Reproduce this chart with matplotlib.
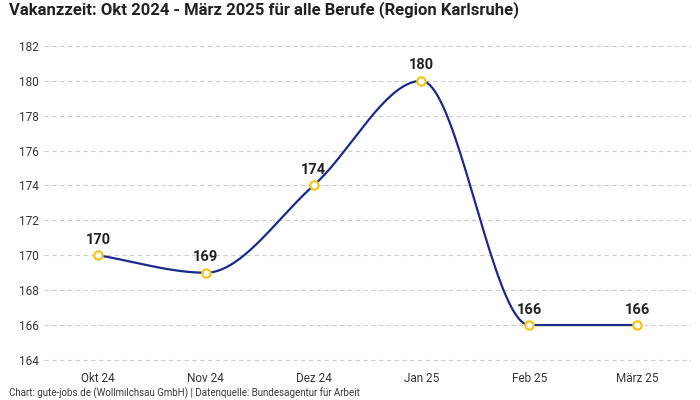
import numpy as np
import matplotlib
matplotlib.use("Agg")
import matplotlib.pyplot as plt

plt.rcParams["font.family"] = "Roboto"

categories = ["Okt 24", "Nov 24", "Dez 24", "Jan 25", "Feb 25", "März 25"]
values = [170, 169, 174, 180, 166, 166]
yticks = [164, 166, 168, 170, 172, 174, 176, 178, 180, 182]

def monotone(x, y, n=40):
    x = np.asarray(x, float); y = np.asarray(y, float)
    h = np.diff(x); d = np.diff(y) / h
    m = np.zeros_like(y)
    m[0], m[-1] = d[0], d[-1]
    for i in range(1, len(y) - 1):
        if d[i-1] * d[i] <= 0:
            m[i] = 0
        else:
            w1 = 2*h[i] + h[i-1]; w2 = h[i] + 2*h[i-1]
            m[i] = (w1 + w2) / (w1/d[i-1] + w2/d[i])
    xs, ys = [], []
    for i in range(len(h)):
        t = np.linspace(0, 1, n)
        h00 = 2*t**3 - 3*t**2 + 1; h10 = t**3 - 2*t**2 + t
        h01 = -2*t**3 + 3*t**2; h11 = t**3 - t**2
        xs.append(x[i] + t*h[i])
        ys.append(h00*y[i] + h10*h[i]*m[i] + h01*y[i+1] + h11*h[i]*m[i+1])
    return np.concatenate(xs), np.concatenate(ys)

fig = plt.figure(figsize=(7, 4), dpi=100)
ax = fig.add_axes([0.063, 0.0875, 0.924, 0.8125])
xi = np.arange(len(categories))
sx, sy = monotone(xi, values)
ax.plot(sx, sy, color="#1a2a8c", lw=1.6, zorder=2)
ax.plot(xi, values, "o", ms=6, mfc="white", mec="#f5c518", mew=1.6, zorder=3)
for x, v in zip(xi, values):
    ax.annotate(str(v), (x, v), xytext=(0, 6), textcoords="offset points",
                ha="center", va="bottom", fontsize=10.5, fontweight="bold", color="#222")
ax.set_xlim(-0.5, 5.5)
ax.set_ylim(163.71, 182.34)
ax.set_yticks(yticks)
ax.set_xticks(xi, categories)
ax.grid(axis="y", ls=(0, (4, 3)), color="#cccccc", lw=0.8)
ax.set_axisbelow(True)
for s in ax.spines.values():
    s.set_visible(False)
ax.tick_params(length=0, labelsize=8.5, colors="#333")
ax.tick_params(axis="x", pad=5)
fig.text(0.013, 0.975, "Vakanzzeit: Okt 2024 - März 2025 für alle Berufe (Region Karlsruhe)",
         fontsize=12, fontweight="bold", color="#222", va="center")
fig.text(0.013, 0.008, "Chart: gute-jobs.de (Wollmilchsau GmbH) | Datenquelle: Bundesagentur für Arbeit",
         fontsize=7, color="#333")
fig.savefig("out.png")
